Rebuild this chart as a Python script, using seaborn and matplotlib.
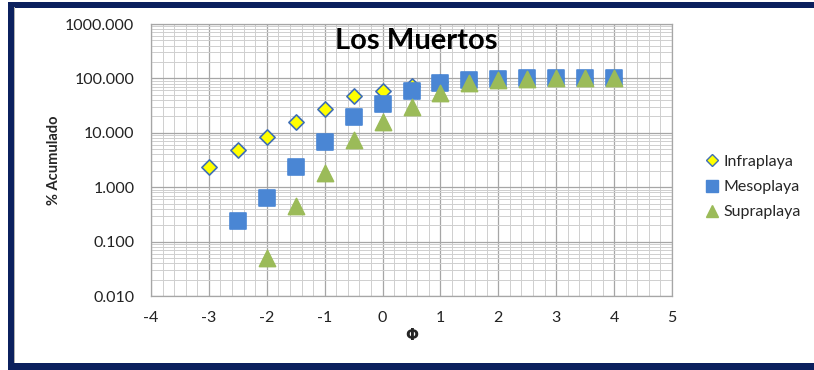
import numpy as np
import pandas as pd
import matplotlib
matplotlib.use("Agg")
import matplotlib.pyplot as plt
from matplotlib.patches import Rectangle
from matplotlib.lines import Line2D
from matplotlib.ticker import LogLocator, FixedLocator, FuncFormatter, MultipleLocator
import seaborn as sns

phi = [-3, -2.5, -2, -1.5, -1, -0.5, 0, 0.5, 1, 1.5, 2, 2.5, 3, 3.5, 4]
infraplaya = [2.4, 4.9, 8.4, 16.1, 27.9, 47.7, 59.9, 72, 87, 95, 99, 100, 100, 100, 100]
phi_meso = [-2.5, -2, -1.5, -1, -0.5, 0, 0.5, 1, 1.5, 2, 2.5, 3, 3.5, 4]
mesoplaya = [0.24, 0.635, 2.36, 6.9, 19.6, 34.5, 59, 82.7, 93, 98, 100, 100, 100, 100]
phi_supra = [-2, -1.5, -1, -0.5, 0, 0.5, 1, 1.5, 2, 2.5, 3, 3.5, 4]
supraplaya = [0.051, 0.45, 1.83, 7.5, 15.9, 29.9, 54, 83, 93, 99, 100, 100, 100]

series_names = ["Infraplaya", "Mesoplaya", "Supraplaya"]
title = "Los Muertos"
xlabel = "Φ"
ylabel = "% Acumulado"

df = pd.concat([
    pd.DataFrame({"phi": phi, "pct": infraplaya, "serie": series_names[0]}),
    pd.DataFrame({"phi": phi_meso, "pct": mesoplaya, "serie": series_names[1]}),
    pd.DataFrame({"phi": phi_supra, "pct": supraplaya, "serie": series_names[2]}),
])

sns.set_theme(style="white")
plt.rcParams["font.family"] = ["Lato", "DejaVu Sans"]

fig = plt.figure(figsize=(8.14, 3.70), dpi=100)
ax = fig.add_axes([151/814, 1-296/370, (672-151)/814, (296-24)/370])

colors = {"Infraplaya": "#FFFF00", "Mesoplaya": "#4A86D4", "Supraplaya": "#9BBB59"}
markers = {"Infraplaya": "D", "Mesoplaya": "s", "Supraplaya": "^"}
sizes = {"Infraplaya": 60, "Mesoplaya": 120, "Supraplaya": 135}
edges = {"Infraplaya": "#3F6FB5", "Mesoplaya": "#4A86D4", "Supraplaya": "#9BBB59"}

for name in series_names:
    sub = df[df["serie"] == name]
    sns.scatterplot(data=sub, x="phi", y="pct", ax=ax, marker=markers[name],
                    s=sizes[name], color=colors[name], edgecolor=edges[name],
                    linewidth=1.2, zorder=3, legend=False)

ax.set_yscale("log")
ax.set_ylim(0.01, 1000)
ax.set_xlim(-4, 5)
ax.xaxis.set_major_locator(MultipleLocator(1))
ax.xaxis.set_minor_locator(MultipleLocator(0.2))
ax.yaxis.set_major_locator(LogLocator(base=10, numticks=10))
ax.yaxis.set_minor_locator(LogLocator(base=10, subs=np.arange(2, 10), numticks=20))
ax.yaxis.set_major_formatter(FuncFormatter(lambda v, p: f"{v:.3f}"))
ax.yaxis.set_minor_formatter(FuncFormatter(lambda v, p: ""))
ax.xaxis.set_major_formatter(FuncFormatter(lambda v, p: f"{v:g}"))

ax.grid(which="major", color="#A6A6A6", linewidth=0.9)
ax.grid(which="minor", color="#CFCFCF", linewidth=0.7)
ax.set_axisbelow(True)
for s in ax.spines.values():
    s.set_color("#A6A6A6")
    s.set_linewidth(0.9)
ax.tick_params(axis="both", which="both", length=0, labelsize=11.5, colors="#222222")
ax.tick_params(axis="x", pad=11)
ax.tick_params(axis="y", pad=12)

ax.set_xlabel(xlabel, fontsize=11, fontweight="bold", family=["DejaVu Sans"], labelpad=2)
ax.set_ylabel(ylabel, fontsize=10.5, fontweight="bold", labelpad=3)
ax.text(0.509, 0.985, title, transform=ax.transAxes, ha="center", va="top",
        fontsize=21, fontweight="bold", color="black", zorder=5)

handles = [Line2D([], [], linestyle="none", marker=markers[n], markersize=ms,
                  markerfacecolor=colors[n], markeredgecolor=edges[n], markeredgewidth=1.0)
           for n, ms in zip(series_names, [6.5, 9, 9])]
fig.legend(handles, series_names, loc="center left", bbox_to_anchor=(688/814, 1-187/370),
           frameon=False, fontsize=11.5, handletextpad=0.1, labelspacing=0.7, handlelength=1.2)

# navy frame
navy = "#0B205E"
fig.patches.append(Rectangle((8/814, 0), 6/814, 368/370, transform=fig.transFigure,
                             facecolor=navy, edgecolor="none", zorder=10))
fig.patches.append(Rectangle((8/814, 1-7.5/370), 806/814, 5.5/370, transform=fig.transFigure,
                             facecolor=navy, edgecolor="none", zorder=10))
fig.patches.append(Rectangle((8/814, 0), 806/814, 7/370, transform=fig.transFigure,
                             facecolor=navy, edgecolor="none", zorder=10))
fig.patches.append(Rectangle((14/814, 7/370), 1.2/814, 356/370, transform=fig.transFigure,
                             facecolor="#B0B0B0", edgecolor="none", zorder=10))

fig.savefig("out.png", dpi=100)
